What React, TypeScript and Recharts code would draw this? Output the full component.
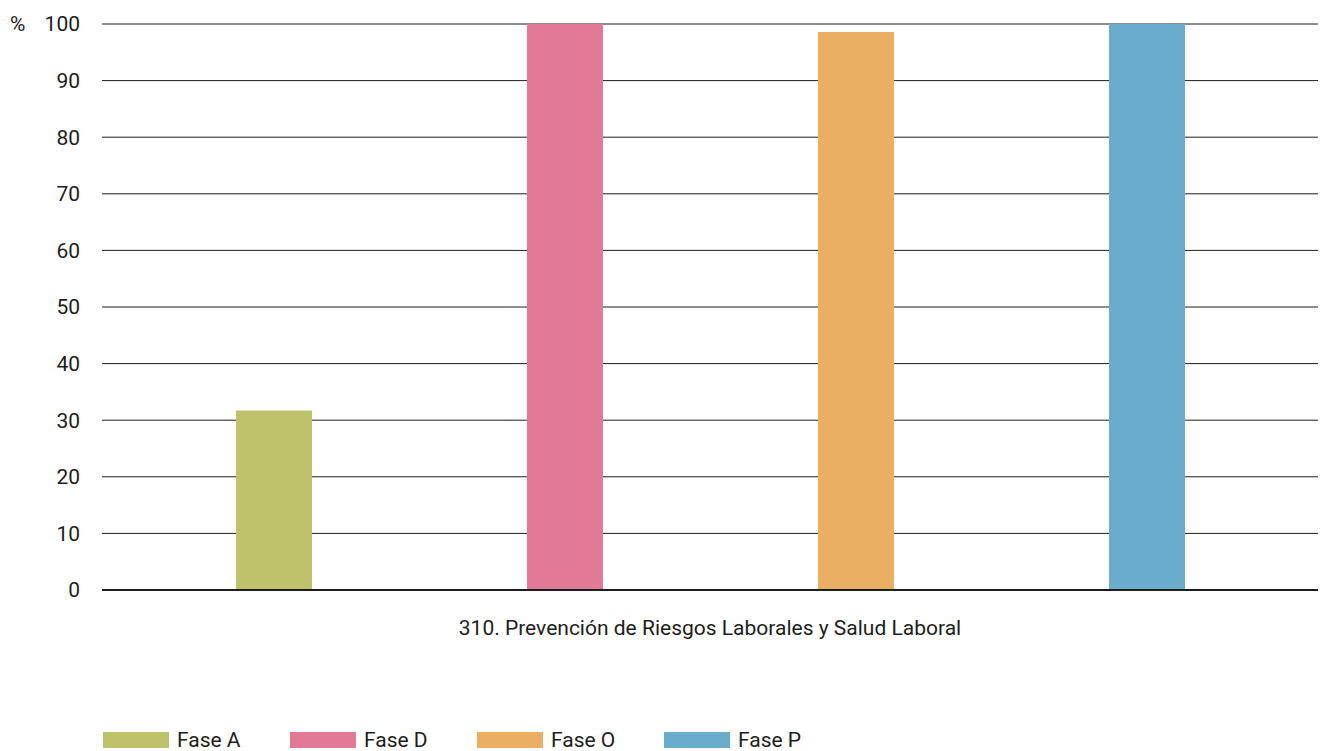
import React from "react";
import { BarChart, Bar, XAxis, YAxis, CartesianGrid, Legend } from "recharts";

const categories = ["310. Prevención de Riesgos Laborales y Salud Laboral"];
const seriesNames = ["Fase A", "Fase D", "Fase O", "Fase P"];
const seriesKeys = ["faseA", "faseD", "faseO", "faseP"];
const seriesColors = ["#bec26b", "#e27a97", "#eaaf62", "#6aaccc"];
const faseA = [31.7];
const faseD = [100];
const faseO = [98.6];
const faseP = [100];
const yTicks = [0, 10, 20, 30, 40, 50, 60, 70, 80, 90, 100];

const data = categories.map((name, i) => ({
  name,
  faseA: faseA[i],
  faseD: faseD[i],
  faseO: faseO[i],
  faseP: faseP[i],
}));

const font = "Roboto, 'Noto Sans', sans-serif";
const textColor = "#1d1d1b";

function LegendContent({ payload }: any) {
  return (
    <div style={{ display: "flex", fontFamily: font, fontSize: 21, color: textColor, height: 20 }}>
      {(payload || []).map((item: any) => (
        <div key={item.value} style={{ display: "flex", alignItems: "center", width: 187 }}>
          <span style={{ display: "inline-block", width: 66, height: 16, background: item.color, marginRight: 8 }} />
          <span style={{ lineHeight: "20px" }}>{item.value}</span>
        </div>
      ))}
    </div>
  );
}

export default function App() {
  return (
    <div style={{ position: "absolute", left: 0, top: 0, width: 1321, height: 751, background: "#fff" }}>
      <BarChart
        width={1321}
        height={751}
        data={data}
        margin={{ top: 24, right: 3, left: 0, bottom: 81 }}
        barSize={76}
        barGap={215}
      >
        <CartesianGrid vertical={false} stroke="#1d1d1b" strokeWidth={1} />
        <XAxis
          dataKey="name"
          tickLine={false}
          axisLine={{ stroke: "#1d1d1b", strokeWidth: 2 }}
          tickMargin={24}
          height={60}
          tick={{ fontFamily: font, fontSize: 21, fill: textColor }}
        />
        <YAxis
          domain={[0, 100]}
          ticks={yTicks}
          width={102}
          tickLine={false}
          axisLine={false}
          tickSize={0}
          tickMargin={22}
          tick={{ fontFamily: font, fontSize: 21, fill: textColor }}
          label={{
            content: () => (
              <text x={10} y={31} fontFamily={font} fontSize={21} fill={textColor}>
                %
              </text>
            ),
          }}
        />
        <Legend
          verticalAlign="bottom"
          align="left"
          content={<LegendContent />}
          wrapperStyle={{ left: 103, top: 730, width: 800 }}
        />
        {seriesKeys.map((key, i) => (
          <Bar key={key} dataKey={key} name={seriesNames[i]} fill={seriesColors[i]} isAnimationActive={false} />
        ))}
      </BarChart>
    </div>
  );
}
